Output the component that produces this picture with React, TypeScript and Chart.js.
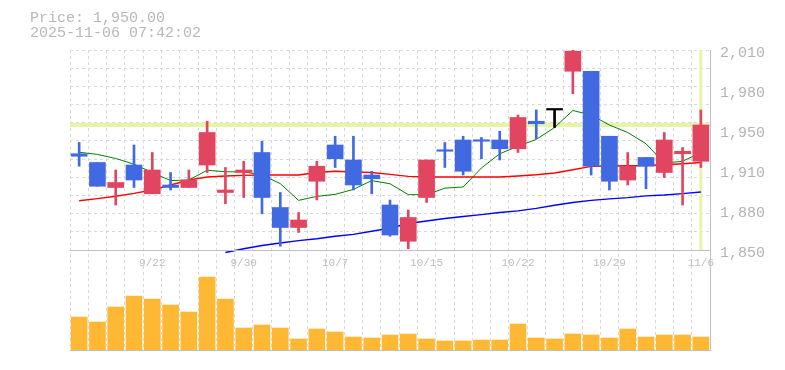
import { useEffect, useRef } from 'react';
import { Chart, registerables } from 'chart.js';

Chart.register(...registerables);

const titleLines = ['Price: 1,950.00', '2025-11-06 07:42:02'];

const dates = [
  '9/16', '9/17', '9/18', '9/19', '9/22', '9/24', '9/25', '9/26', '9/29', '9/30',
  '10/1', '10/2', '10/3', '10/6', '10/7', '10/8', '10/9', '10/10', '10/14', '10/15',
  '10/16', '10/17', '10/20', '10/21', '10/22', '10/23', '10/24', '10/27', '10/28', '10/29',
  '10/30', '10/31', '11/4', '11/5', '11/6',
];
const shownDates = ['9/22', '9/30', '10/7', '10/15', '10/22', '10/29', '11/6'];

const opens = [
  1927, 1920, 1900, 1918, 1895, 1902, 1900, 1918, 1896, 1912,
  1928, 1884, 1868, 1905, 1934, 1922, 1910, 1886, 1857, 1892,
  1930, 1938, 1938, 1938, 1931, 1953, 1962, 1993, 1993, 1941,
  1906, 1924, 1912, 1927, 1921,
];
const closes = [
  1925, 1901, 1904, 1906, 1914, 1900, 1906, 1944, 1898, 1914,
  1892, 1868, 1874, 1917, 1923, 1902, 1907, 1862, 1876, 1922,
  1929, 1913, 1937, 1931, 1956, 1951, 1962, 2009, 1917, 1905,
  1917, 1917, 1938, 1929, 1950,
];
const highs = [
  1936, 1920, 1914, 1934, 1928, 1912, 1914, 1953, 1916, 1921,
  1937, 1896, 1880, 1921, 1941, 1941, 1913, 1890, 1882, 1922,
  1936, 1941, 1940, 1945, 1958, 1962, 1962, 2010, 1993, 1941,
  1928, 1924, 1944, 1932, 1962,
];
const lows = [
  1917, 1901, 1886, 1900, 1895, 1898, 1900, 1912, 1887, 1892,
  1879, 1853, 1864, 1890, 1916, 1898, 1895, 1861, 1851, 1888,
  1916, 1910, 1923, 1922, 1928, 1939, 1948, 1975, 1910, 1898,
  1902, 1899, 1908, 1886, 1916,
];
const volumes = [
  99000, 84000, 129000, 162000, 153000, 135000, 114000, 219000, 153000, 66000,
  75000, 66000, 33000, 63000, 54000, 39000, 36000, 45000, 48000, 33000,
  27000, 27000, 30000, 30000, 78000, 36000, 33000, 48000, 45000, 36000,
  63000, 39000, 45000, 45000, 39000,
];
const ma5 = [
  1928.2, 1926.5, 1923.2, 1918.7, 1912.0, 1905.5, 1906.0, 1913.8, 1912.6, 1912.5,
  1910.0, 1903.1, 1889.7, 1892.9, 1894.5, 1898.5, 1905.5, 1903.0, 1894.3, 1894.2,
  1899.5, 1900.4, 1915.6, 1927.0, 1933.0, 1938.5, 1948.0, 1961.6, 1958.0, 1950.0,
  1944.0, 1935.0, 1919.5, 1921.0, 1928.0,
];
const ma25 = [
  1889.4, 1891.1, 1893.0, 1895.3, 1898.0, 1902.0, 1906.0, 1908.4, 1909.2, 1909.7,
  1910.0, 1910.0, 1910.0, 1912.0, 1912.9, 1912.4, 1912.0, 1910.5, 1908.9, 1908.4,
  1908.4, 1908.4, 1908.4, 1908.4, 1909.2, 1910.2, 1911.6, 1914.2, 1916.9, 1917.2,
  1917.4, 1917.6, 1918.2, 1919.0, 1920.0,
];
const ma75 = [
  null, null, null, null, null, null, null, null, 1848.0, 1851.0,
  1853.6, 1855.6, 1857.5, 1859.0, 1861.0, 1862.5, 1865.0, 1867.5, 1871.2, 1873.2,
  1875.2, 1876.8, 1878.3, 1880.0, 1881.3, 1883.3, 1885.8, 1888.0, 1889.7, 1890.9,
  1891.9, 1893.3, 1894.0, 1895.1, 1896.4,
];
const currentPrice = 1950;

const priceTicks = [1850, 1882, 1914, 1946, 1978, 2010];
const priceTickLabels = ['1,850', '1,880', '1,910', '1,950', '1,980', '2,010'];
const priceAxisMin = 1770;
const volumeAxisMax = 900000;

const MONO = "'Liberation Mono', 'DejaVu Sans Mono', monospace";
const UP = '#e2455f';
const DOWN = '#4169e1';
const FLAT = '#000000';
const GRID = '#d9d9d9';
const FRAME = '#c0c0c0';

export default function App() {
  const ref = useRef<HTMLCanvasElement>(null);

  useEffect(() => {
    const canvas = ref.current;
    if (!canvas) return;
    const candleColors = opens.map((o, i) =>
      closes[i] > o ? UP : closes[i] < o ? DOWN : FLAT
    );
    const n = dates.length;
    const gridRows = Array.from({ length: 12 }, (_, i) => i);

    const chart = new Chart(canvas, {
      type: 'bar',
      data: {
        labels: dates,
        datasets: [
          {
            type: 'bar',
            label: 'body',
            data: opens.map((o, i) => [o, closes[i]]),
            backgroundColor: candleColors,
            barThickness: 16,
            grouped: false,
            minBarLength: 1.5,
            xAxisID: 'x',
            yAxisID: 'y',
            order: 0,
          },
          {
            type: 'bar',
            label: 'wick',
            data: lows.map((l, i) => [l, highs[i]]),
            backgroundColor: candleColors,
            barThickness: 2,
            grouped: false,
            xAxisID: 'x',
            yAxisID: 'y',
            order: 1,
          },
          {
            type: 'line',
            label: 'MA5',
            data: ma5,
            borderColor: '#008000',
            borderWidth: 1,
            pointRadius: 0,
            tension: 0,
            xAxisID: 'x',
            yAxisID: 'y',
            order: 2,
          },
          {
            type: 'line',
            label: 'MA25',
            data: ma25,
            borderColor: '#ff0000',
            borderWidth: 1.5,
            pointRadius: 0,
            tension: 0,
            xAxisID: 'x',
            yAxisID: 'y',
            order: 3,
          },
          {
            type: 'line',
            label: 'MA75',
            data: ma75,
            borderColor: '#0000ff',
            borderWidth: 1.5,
            pointRadius: 0,
            tension: 0,
            xAxisID: 'x',
            yAxisID: 'y',
            order: 4,
          },
          {
            type: 'line',
            label: 'price',
            data: [
              { x: -0.5, y: currentPrice },
              { x: n - 0.5, y: currentPrice },
            ],
            borderColor: '#e5f5a8',
            borderWidth: 4,
            pointRadius: 0,
            xAxisID: 'xl',
            yAxisID: 'y',
            order: 5,
          },
          {
            type: 'line',
            label: 'now',
            data: [
              { x: n - 1, y: priceTicks[0] },
              { x: n - 1, y: priceTicks[priceTicks.length - 1] },
            ],
            borderColor: '#e5f5a8',
            borderWidth: 3,
            pointRadius: 0,
            xAxisID: 'xl',
            yAxisID: 'y',
            order: 6,
          },
          {
            type: 'bar',
            label: 'volume',
            data: volumes,
            backgroundColor: '#ffb833',
            barThickness: 16,
            grouped: false,
            xAxisID: 'x',
            yAxisID: 'yv',
            order: 7,
          },
        ],
      } as any,
      options: {
        responsive: false,
        animation: false,
        devicePixelRatio: 1,
        events: [],
        layout: { padding: { left: 30, right: 0, top: 0, bottom: 20 } },
        plugins: {
          legend: { display: false },
          tooltip: { enabled: false },
          title: {
            display: true,
            text: titleLines,
            align: 'start',
            color: '#b8b8b8',
            font: { family: MONO, size: 15, weight: 'normal', lineHeight: 1 },
            padding: { top: 10.5, bottom: 9.5 },
          },
        },
        scales: {
          x: {
            type: 'category',
            position: { y: priceTicks[0] } as any,
            offset: true,
            grid: { display: true, offset: true, color: GRID, lineWidth: 1, drawTicks: false },
            border: { display: true, color: FRAME, width: 1, dash: [3, 3], z: 1 },
            ticks: {
              autoSkip: false,
              maxRotation: 0,
              padding: 6,
              color: '#bdbdbd',
              font: { family: MONO, size: 11 },
              callback: (_v: any, i: number) => (shownDates.includes(dates[i]) ? dates[i] : ''),
            },
          },
          xl: {
            type: 'linear',
            display: false,
            offset: false,
            grid: { offset: false },
            min: -0.5,
            max: n - 0.5,
          },
          xb: {
            type: 'linear',
            position: 'bottom',
            offset: false,
            min: 0,
            max: 1,
            ticks: { display: false },
            grid: { display: false, drawTicks: false, offset: false },
            border: { display: true, color: FRAME, width: 1, z: 1 },
          },
          y: {
            type: 'linear',
            position: 'right',
            min: priceAxisMin,
            max: priceTicks[priceTicks.length - 1],
            afterBuildTicks: (s: any) => {
              s.ticks = priceTicks.map((v) => ({ value: v }));
            },
            afterFit: (s: any) => {
              s.width = 75;
            },
            grid: { display: false, drawTicks: false },
            border: { display: true, color: FRAME, width: 1, z: 1 },
            ticks: {
              padding: 10,
              labelOffset: 3,
              color: '#b4b4b4',
              font: { family: MONO, size: 15 },
              callback: (_v: any, i: number) => priceTickLabels[i],
            },
          },
          yg: {
            type: 'linear',
            position: 'left',
            min: -5.5,
            max: 11,
            afterBuildTicks: (s: any) => {
              s.ticks = gridRows.map((v) => ({ value: v }));
            },
            afterFit: (s: any) => {
              s.width = 40;
            },
            ticks: { display: false },
            grid: { color: GRID, lineWidth: 1, drawTicks: false },
            border: { display: false, dash: [3, 3] },
          },
          yv: { type: 'linear', display: false, min: 0, max: volumeAxisMax },
        },
      } as any,
    });
    return () => chart.destroy();
  }, []);

  return (
    <div style={{ position: 'fixed', left: 0, top: 0, width: 785, height: 370, background: '#fff' }}>
      <canvas ref={ref} width={785} height={370} style={{ display: 'block' }} />
    </div>
  );
}
